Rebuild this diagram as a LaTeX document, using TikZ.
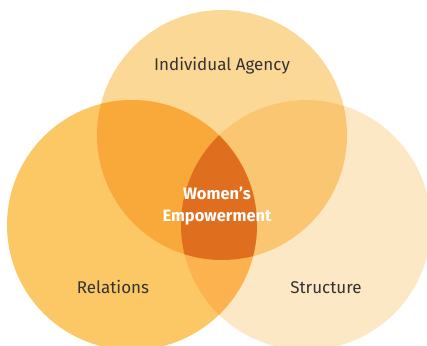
\documentclass[tikz,border=0pt]{standalone}
\usepackage{fontspec}
\setmainfont{Fira Sans}
\begin{document}
\begin{tikzpicture}[x=1pt,y=-1pt,
  label/.style={text=black!80, font=\fontsize{17}{20}\selectfont, inner sep=0pt, anchor=base},
  core/.style={text=white, font=\bfseries\fontsize{16.5}{22}\selectfont, align=center, inner sep=0pt}]
\useasboundingbox (0,0) rectangle (427,345);
\def\R{125}
\coordinate (ca) at (222,135);
\coordinate (cr) at (132,225);
\coordinate (cs) at (306,225);
% single circles
\fill[fill={rgb,255:red,252;green,216;blue,151}] (ca) circle (\R);
\fill[fill={rgb,255:red,253;green,232;blue,198}] (cs) circle (\R);
\fill[fill={rgb,255:red,252;green,200;blue,101}] (cr) circle (\R);
% pairwise overlaps
\begin{scope}
  \clip (ca) circle (\R);
  \fill[fill={rgb,255:red,251;green,198;blue,114}] (cs) circle (\R);
\end{scope}
\begin{scope}
  \clip (ca) circle (\R);
  \fill[fill={rgb,255:red,249;green,168;blue,58}] (cr) circle (\R);
\end{scope}
\begin{scope}
  \clip (cr) circle (\R);
  \fill[fill={rgb,255:red,252;green,179;blue,79}] (cs) circle (\R);
\end{scope}
% triple overlap
\begin{scope}
  \clip (ca) circle (\R);
  \clip (cr) circle (\R);
  \fill[fill={rgb,255:red,224;green,110;blue,31}] (cs) circle (\R);
\end{scope}
\node[label] (agency) at (222,70) {Individual Agency};
\node[label] (relations) at (113,293) {Relations};
\node[label] (structure) at (326,293) {Structure};
\node[core] (women) at (217,206) {Women’s\\Empowerment};
\end{tikzpicture}
\end{document}
